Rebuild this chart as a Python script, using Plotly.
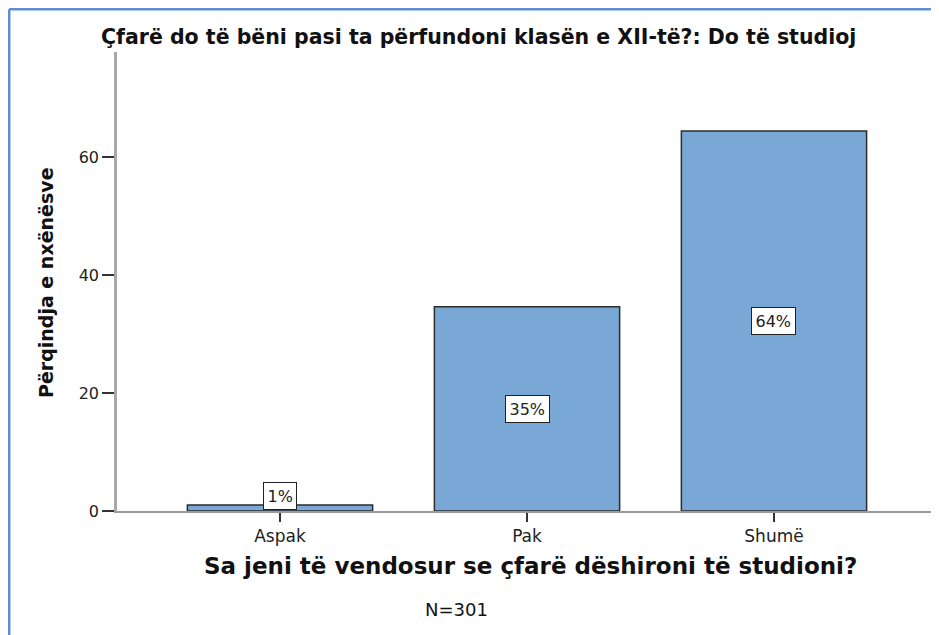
import plotly.graph_objects as go

# ---- data ----
categories = ["Aspak", "Pak", "Shumë"]
percent_values = [1.0, 34.6, 64.4]
bar_labels = ["1%", "35%", "64%"]
y_tick_values = [0, 20, 40, 60]
title_text = "Çfarë do të bëni pasi ta përfundoni klasën e XII-të?: Do të studioj"
x_title_text = "Sa jeni të vendosur se çfarë dëshironi të studioni?"
y_title_text = "Përqindja e nxënësve"
n_text = "N=301"

# page is rendered with an ~8px body margin; work in page pixels
OFF = 8
PAGE_W, PAGE_H = 939, 635
W, H = PAGE_W - OFF, PAGE_H - OFF
PL, PR_EDGE, PT, PB_EDGE = 117, 937, 52, 511   # plot area in page pixels
L, T = PL - OFF, PT - OFF
R = W - (PR_EDGE - OFF)
B = H - (PB_EDGE - OFF)
PW, PH = PR_EDGE - PL, PB_EDGE - PT

def px(x):
    return (x - PL) / PW

def py(y):
    return (PB_EDGE - y) / PH

FONT = "DejaVu Sans, Verdana, sans-serif"
BAR_COLOR = "#79A8D6"

fig = go.Figure()
fig.add_trace(go.Bar(
    x=categories,
    y=percent_values,
    width=0.75,
    marker=dict(color=BAR_COLOR, line=dict(color="#2b2b2b", width=1.5)),
    hoverinfo="skip",
))

# boxed percentage labels at bar mid-height
for cat, val, lab in zip(categories, percent_values, bar_labels):
    fig.add_annotation(
        x=cat, y=max(val / 2, 2.6), xref="x", yref="y",
        text=lab, showarrow=False,
        font=dict(family=FONT, size=16, color="#222"),
        bgcolor="white", bordercolor="#222", borderwidth=1, borderpad=3.5,
    )

# title and axis titles
fig.add_annotation(x=px(478), y=py(37), xref="paper", yref="paper",
                   text="<b>" + title_text + "</b>", showarrow=False,
                   font=dict(family=FONT, size=20.5, color="#111"),
                   xanchor="center", yanchor="middle")
fig.add_annotation(x=px(530), y=py(566), xref="paper", yref="paper",
                   text="<b>" + x_title_text + "</b>", showarrow=False,
                   font=dict(family=FONT, size=23, color="#111"),
                   xanchor="center", yanchor="middle")
fig.add_annotation(x=px(46), y=py(283), xref="paper", yref="paper",
                   text="<b>" + y_title_text + "</b>", showarrow=False,
                   textangle=-90,
                   font=dict(family=FONT, size=19, color="#111"),
                   xanchor="center", yanchor="middle")
fig.add_annotation(x=px(456), y=py(609), xref="paper", yref="paper",
                   text=n_text, showarrow=False,
                   font=dict(family=FONT, size=18, color="#111"),
                   xanchor="center", yanchor="middle")

# blue frame (left and top edges)
FRAME = "#5B8FD0"
fig.add_shape(type="line", xref="paper", yref="paper",
              x0=px(9.2), x1=px(9.2), y0=py(9.2), y1=py(PAGE_H + 5),
              line=dict(color=FRAME, width=2.5))
fig.add_shape(type="line", xref="paper", yref="paper",
              x0=px(9.2), x1=px(PAGE_W + 5), y0=py(9.2), y1=py(9.2),
              line=dict(color=FRAME, width=2.5))

fig.update_layout(
    width=W, height=H,
    margin=dict(l=L, r=R, t=T, b=B, pad=0),
    paper_bgcolor="white", plot_bgcolor="white",
    showlegend=False,
    xaxis=dict(
        range=[-0.66, 2.66],
        showline=True, linecolor="#9a9a9a", linewidth=2,
        ticks="outside", ticklen=9, tickwidth=1.5, tickcolor="#333",
        tickfont=dict(family=FONT, size=17, color="#222"),
        showgrid=False, zeroline=False,
    ),
    yaxis=dict(
        range=[0, 77.8],
        tickvals=y_tick_values,
        showline=True, linecolor="#a8a8a8", linewidth=2.5,
        ticks="outside", ticklen=12, tickwidth=1.5, tickcolor="#333",
        tickfont=dict(family=FONT, size=16, color="#222"),
        showgrid=False, zeroline=False,
    ),
)

fig.write_html("out.html")
